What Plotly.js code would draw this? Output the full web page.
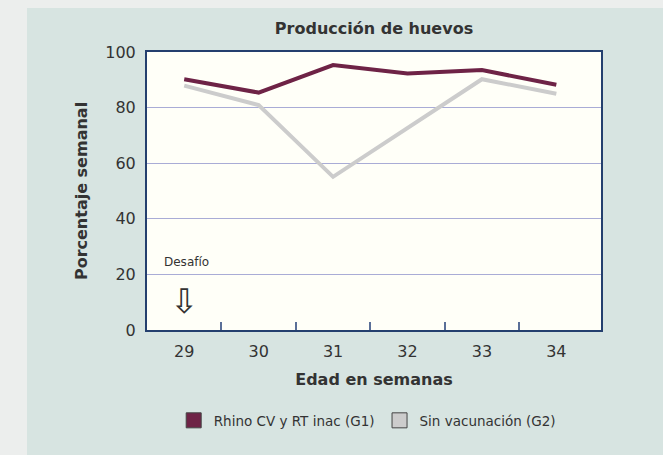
<!DOCTYPE html>
<html><head><meta charset="utf-8">
<script src="https://cdn.plot.ly/plotly-3.0.1.min.js"></script>
<style>
html,body{margin:0;padding:0;background:#eceeed;width:663px;height:455px;overflow:hidden}
#chart{position:absolute;left:27px;top:8px;width:636px;height:447px}
</style></head>
<body><div id="chart"></div>
<script>
const weeks = [29, 30, 31, 32, 33, 34];
const g1Values = [90.2, 85.4, 95.3, 92.3, 93.5, 88.2];
const g2Values = [87.9, 80.9, 55.1, 72.7, 90.2, 85.0];
const seriesNames = ['Rhino CV y RT inac (G1)', 'Sin vacunación (G2)'];
const yTicks = [0, 20, 40, 60, 80, 100];
const dividerTicks = [29.5, 30.5, 31.5, 32.5, 33.5];

const FONT = 'DejaVu Sans, sans-serif';
const c1 = '#6e2346', c2 = '#cccccc';

const traces = [
  {x: weeks, y: g1Values, mode: 'lines', line: {color: c1, width: 4}, showlegend: false, hoverinfo: 'skip'},
  {x: weeks, y: g2Values, mode: 'lines', line: {color: c2, width: 4}, showlegend: false, hoverinfo: 'skip'},
  {x: [null], y: [null], mode: 'markers', name: seriesNames[0],
   marker: {symbol: 'square', size: 15, color: c1, line: {color: '#444', width: 1}}},
  {x: [null], y: [null], mode: 'markers', name: seriesNames[1],
   marker: {symbol: 'square', size: 15, color: c2, line: {color: '#444', width: 1}}},
  {x: dividerTicks, y: dividerTicks.map(() => null), xaxis: 'x2', mode: 'markers', showlegend: false, hoverinfo: 'skip'}
];

const layout = {
  width: 636, height: 447,
  margin: {l: 120, r: 62, t: 44, b: 125},
  paper_bgcolor: '#d7e4e1',
  plot_bgcolor: '#fffff8',
  font: {family: FONT, color: '#333'},
  title: {text: '<b>Producción de huevos</b>', font: {size: 16, color: '#333', family: FONT},
    xref: 'paper', x: 0.5, xanchor: 'center', y: 0.955, yanchor: 'middle'},
  xaxis: {
    range: [28.5, 34.6], tickmode: 'array', tickvals: weeks, ticktext: weeks.map(String),
    ticks: '', showgrid: false, zeroline: false, fixedrange: true,
    tickfont: {size: 16, color: '#333'}, ticklabelstandoff: 6,
    showline: true, linecolor: '#243f6e', linewidth: 2, mirror: true,
    title: {text: '<b>Edad en semanas</b>', font: {size: 16, color: '#333'}, standoff: 14}
  },
  xaxis2: {
    overlaying: 'x', range: [28.5, 34.6], tickmode: 'array', tickvals: dividerTicks,
    ticks: 'inside', ticklen: 8, tickwidth: 2, tickcolor: '#5a6f98', showticklabels: false,
    showgrid: false, zeroline: false, showline: false, fixedrange: true
  },
  yaxis: {
    range: [0, 100], tickmode: 'array', tickvals: yTicks, ticks: '',
    showgrid: true, gridcolor: '#a9acd6', gridwidth: 1, zeroline: false, fixedrange: true,
    tickfont: {size: 16, color: '#333'}, ticklabelstandoff: 6,
    showline: true, linecolor: '#243f6e', linewidth: 2, mirror: true,
    title: {text: '<b>Porcentaje semanal</b>', font: {size: 16, color: '#333'}, standoff: 14}
  },
  legend: {orientation: 'h', x: 0.485, xanchor: 'center', y: -0.27, yanchor: 'top',
    font: {size: 13.5, color: '#333'}, bgcolor: 'rgba(0,0,0,0)', itemwidth: 30, tracegroupgap: 0},
  annotations: [
    {x: 29.03, y: 24.5, xref: 'x', yref: 'y', text: 'Desafío', showarrow: false,
     font: {size: 12, color: '#333'}, xanchor: 'center', yanchor: 'middle'},
    {x: 29, y: 10.5, xref: 'x', yref: 'y', text: '⇩', showarrow: false,
     font: {size: 34, color: '#333'}, xanchor: 'center', yanchor: 'middle'}
  ]
};

Plotly.newPlot('chart', traces, layout, {displayModeBar: false, staticPlot: true});
</script></body></html>
